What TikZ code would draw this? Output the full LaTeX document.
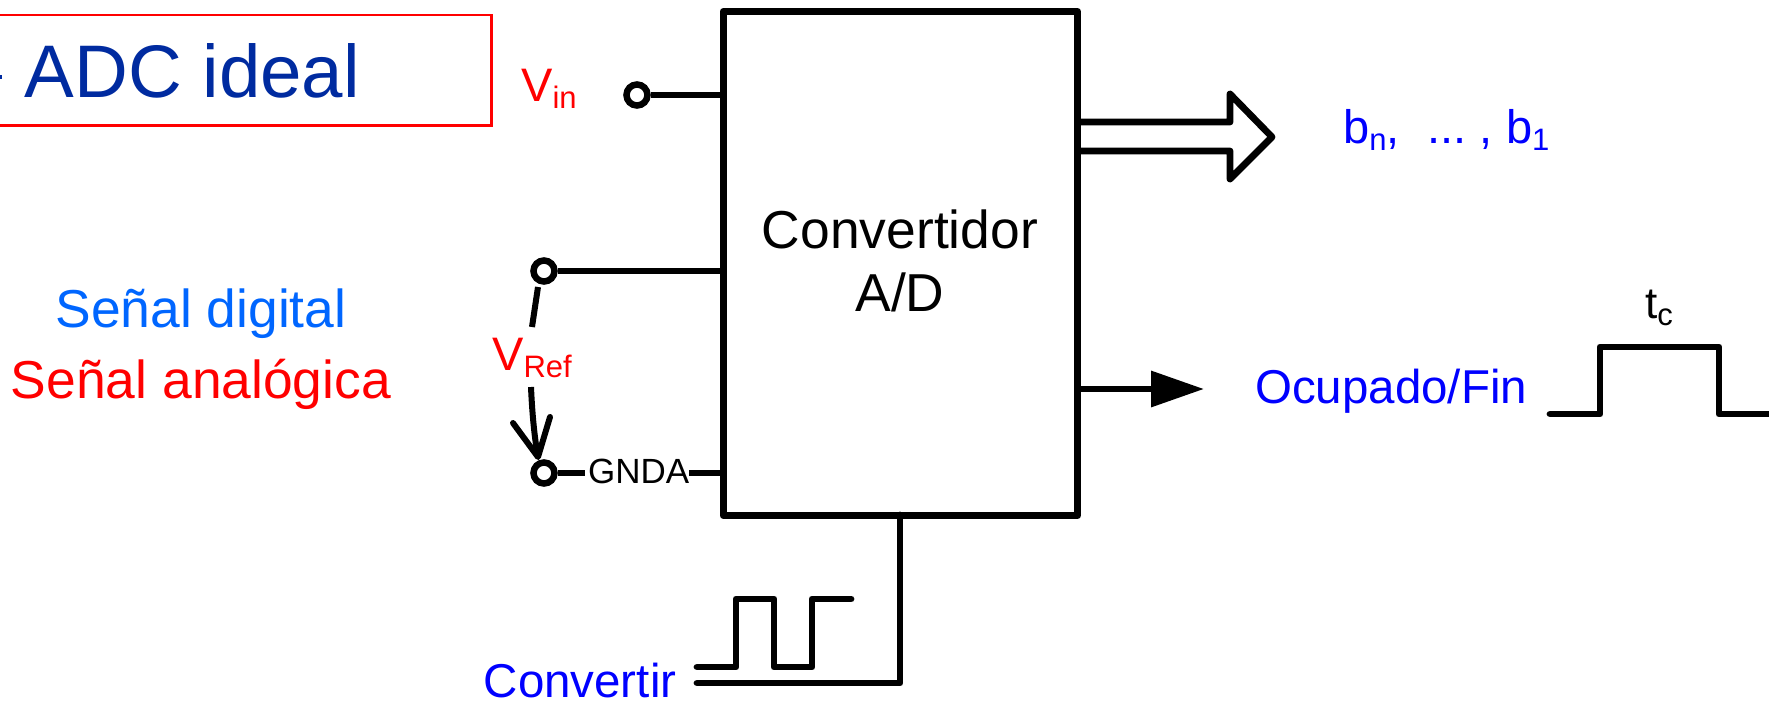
\documentclass[tikz,border=0pt]{standalone}
\usepackage{fontspec}
\setmainfont{Liberation Sans}
\usetikzlibrary{arrows.meta}
\definecolor{adcblue}{RGB}{0,43,160}
\definecolor{digblue}{RGB}{0,102,255}
\definecolor{sigblue}{RGB}{0,0,255}
\newcommand{\fs}[1]{\fontsize{#1}{#1}\selectfont}
\newcommand{\subt}[1]{\raisebox{-7pt}{\fs{31}#1}}
\tikzset{
  wire/.style={line width=6.8pt,line cap=round,line join=round,draw=black},
  thinwire/.style={line width=6pt,line cap=round,line join=round,draw=black},
  term/.style={circle,draw=black,line width=6.5pt,fill=white,minimum size=21pt,inner sep=0pt},
  lab/.style={inner sep=0pt,anchor=base west},
  lab47/.style={lab,font=\fs{47}},
  labc/.style={inner sep=0pt,anchor=base},
}
\begin{document}
\begin{tikzpicture}[x=1pt,y=-1pt]
\useasboundingbox (0,0) rectangle (1769,701);
\clip (0,0) rectangle (1769,701);
% title
\draw[red,line width=2.6pt] (-10,15) -- (491.5,15) -- (491.5,125.5) -- (-10,125.5);
\fill[adcblue] (0,75) rectangle (1.5,79);
\node[lab,text=adcblue,font=\fs{74.5}] (title) at (24.5,97) {ADC ideal};
% converter block
\node[draw=black,line width=7pt,line join=round,outer sep=0pt,minimum width=354.5pt,minimum height=504pt,inner sep=0pt,anchor=north west] (box) at (723,11.5) {};
\node[labc,font=\fs{53.4}] (conv) at (900,248) {Convertidor};
\node[labc,font=\fs{53.4}] (ad) at (900,311) {A/D};
% inputs
\node[term] (tin) at (637,95) {};
\coordinate (bin) at (723,95);
\draw[wire,line cap=butt] (tin) -- (bin);
\node[lab47,text=red] (vin) at (521,101) {V\subt{in}};
\node[term] (tref) at (544,271) {};
\coordinate (bref) at (723,271);
\draw[wire,line cap=butt] (tref) -- (bref);
\node[term] (tgnd) at (544,473) {};
\coordinate (bgnd) at (723,473);
\node[lab,font=\fs{35}] (gnda) at (588,483) {GNDA};
\draw[wire,line cap=butt] (tgnd) -- (585,473);
\draw[wire,line cap=butt] (689,473) -- (bgnd);
% VRef
\node[lab47,text=red] (vref) at (492,370) {V\subt{Ref}};
\coordinate (r1) at (538,287);
\coordinate (r2) at (532,327);
\coordinate (r3) at (531,387);
\coordinate (rtip) at (538,457);
\coordinate (b1) at (513,423);
\coordinate (b2) at (550,417);
\draw[thinwire,line cap=butt] (r1) -- (r2);
\draw[thinwire,line cap=butt] (r3) .. controls (532,410) and (534,435) .. (rtip);
\draw[thinwire] (b1) -- (rtip) -- (b2);
% convert input
\coordinate (boxs) at (900,515);
\coordinate (cc) at (900,683);
\coordinate (cl) at (697,683);
\draw[wire] (boxs) -- (cc) -- (cl);
\coordinate (p0) at (697,667);
\coordinate (p1) at (736,667);
\coordinate (p2) at (736,599);
\coordinate (p3) at (774,599);
\coordinate (p4) at (774,667);
\coordinate (p5) at (812,667);
\coordinate (p6) at (812,599);
\coordinate (p7) at (851,599);
\draw[wire] (p0) -- (p1) -- (p2) -- (p3) -- (p4) -- (p5) -- (p6) -- (p7);
\node[lab,font=\fs{47.5},text=sigblue] (convertir) at (483.5,697) {Convertir};
% bus output
\coordinate (ba) at (1077,122);
\coordinate (bb) at (1230,122);
\coordinate (bc) at (1230,94);
\coordinate (bd) at (1272,137);
\coordinate (be) at (1230,179);
\coordinate (bf) at (1230,151);
\coordinate (bg) at (1077,151);
\draw[wire,line cap=butt] (ba) -- (bb) -- (bc) -- (bd) -- (be) -- (bf) -- (bg);
\node[lab47,text=sigblue] (bits) at (1343,143) {b\subt{n}, \ \hspace{2pt}...\hspace{13pt}, b\subt{1}};
% busy output
\coordinate (oa) at (1077,389);
\coordinate (ob) at (1204,389);
\draw[line width=6.5pt,-{Triangle[length=53pt,width=35pt]}] (oa) -- (ob);
\node[lab,font=\fs{47.5},text=sigblue] (ocu) at (1255,403) {Ocupado/Fin};
\coordinate (q0) at (1550,414);
\coordinate (q1) at (1600,414);
\coordinate (q2) at (1600,347);
\coordinate (q3) at (1719,347);
\coordinate (q4) at (1719,414);
\coordinate (q5) at (1785,414);
\draw[wire] (q0) -- (q1) -- (q2) -- (q3) -- (q4) -- (q5);
\node[labc,font=\fs{44}] (tc) at (1659,318) {t\subt{c}};
% legend
\node[labc,text=digblue,font=\fs{53.4}] (dig) at (201,327) {Señal digital};
\node[labc,text=red,font=\fs{53.4}] (ana) at (201,398) {Señal analógica};
\end{tikzpicture}
\end{document}
